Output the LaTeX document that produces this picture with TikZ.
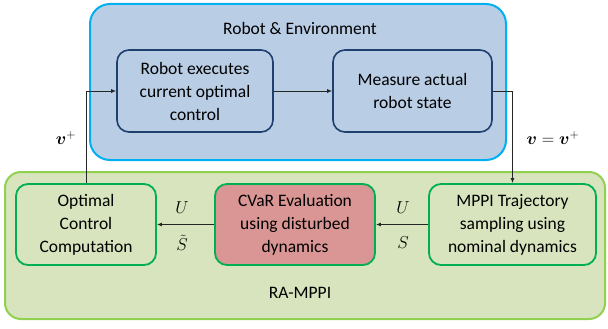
\documentclass[tikz,border=0pt]{standalone}
\usepackage{fontspec}
\usepackage{amsmath,bm}
\setmainfont{Carlito}
\usetikzlibrary{arrows.meta}
\definecolor{bluefill}{HTML}{B9CDE5}
\definecolor{blueedge}{HTML}{00B0F0}
\definecolor{darkedge}{HTML}{1F3F6E}
\definecolor{greenfill}{HTML}{D7E4BD}
\definecolor{greenedge}{HTML}{92D050}
\definecolor{innergreen}{HTML}{00B050}
\definecolor{redfill}{HTML}{D99694}
\begin{document}
\begin{tikzpicture}[x=1pt,y=-1pt,
  every node/.style={font=\fontsize{17.5}{23}\selectfont},
  outerbox/.style={draw, line width=2pt, rounded corners=20pt, inner sep=0pt},
  bluebox/.style={draw=darkedge, fill=bluefill, line width=1.6pt, rounded corners=12pt, align=center, inner sep=0pt},
  greenbox/.style={draw=innergreen, fill=greenfill, line width=1.8pt, rounded corners=12pt, align=center, inner sep=0pt},
  conn/.style={draw=black!85, line width=0.9pt, -{Latex[length=5pt,width=4pt]}},
  lbl/.style={font=\fontsize{18}{20}\selectfont, inner sep=1pt}]
\useasboundingbox[fill=white] (0,0) rectangle (608,329);
% outer boxes
\node[outerbox, draw=blueedge, fill=bluefill, minimum width=416pt, minimum height=156pt] (env) at (298,82) {};
\node[anchor=center] (envtitle) at (300,28) {Robot \& Environment};
\node[outerbox, draw=greenedge, fill=greenfill, rounded corners=16pt, minimum width=600pt, minimum height=147pt] (ra) at (305,245.5) {};
\node (ratitle) at (300,293) {RA-MPPI};
% inner boxes
\node[bluebox, minimum width=156pt, minimum height=82pt] (robot) at (195,91) {Robot executes\\current optimal\\control};
\node[bluebox, minimum width=159pt, minimum height=82pt] (meas) at (412.5,91) {Measure actual\\robot state};
\node[greenbox, minimum width=140pt, minimum height=81pt] (opt) at (86,224.5) {Optimal\\Control\\Computation};
\node[greenbox, fill=redfill, minimum width=160pt, minimum height=81pt] (cvar) at (295,224.5) {CVaR Evaluation\\using disturbed\\dynamics};
\node[greenbox, minimum width=167pt, minimum height=81pt] (mppi) at (512.5,224.5) {MPPI Trajectory\\sampling using\\nominal dynamics};
% connectors
\draw[conn] (robot.east) -- (meas.west);
\draw[conn] (opt.north) |- (robot.west);
\draw[conn] (meas.east) -| (mppi.north);
\draw[conn] (mppi.west) -- (cvar.east);
\draw[conn] (cvar.west) -- (opt.east);
% labels
\node[lbl] (lvp) at (66,138) {$\bm{v}^{+}$};
\node[lbl] (lvv) at (553,138) {$\bm{v}=\bm{v}^{+}$};
\node[lbl] (lu1) at (182,208) {$U$};
\node[lbl] (ls1) at (182,243) {$\tilde{S}$};
\node[lbl] (lu2) at (403,208) {$U$};
\node[lbl] (ls2) at (403,243) {$S$};
\end{tikzpicture}
\end{document}
